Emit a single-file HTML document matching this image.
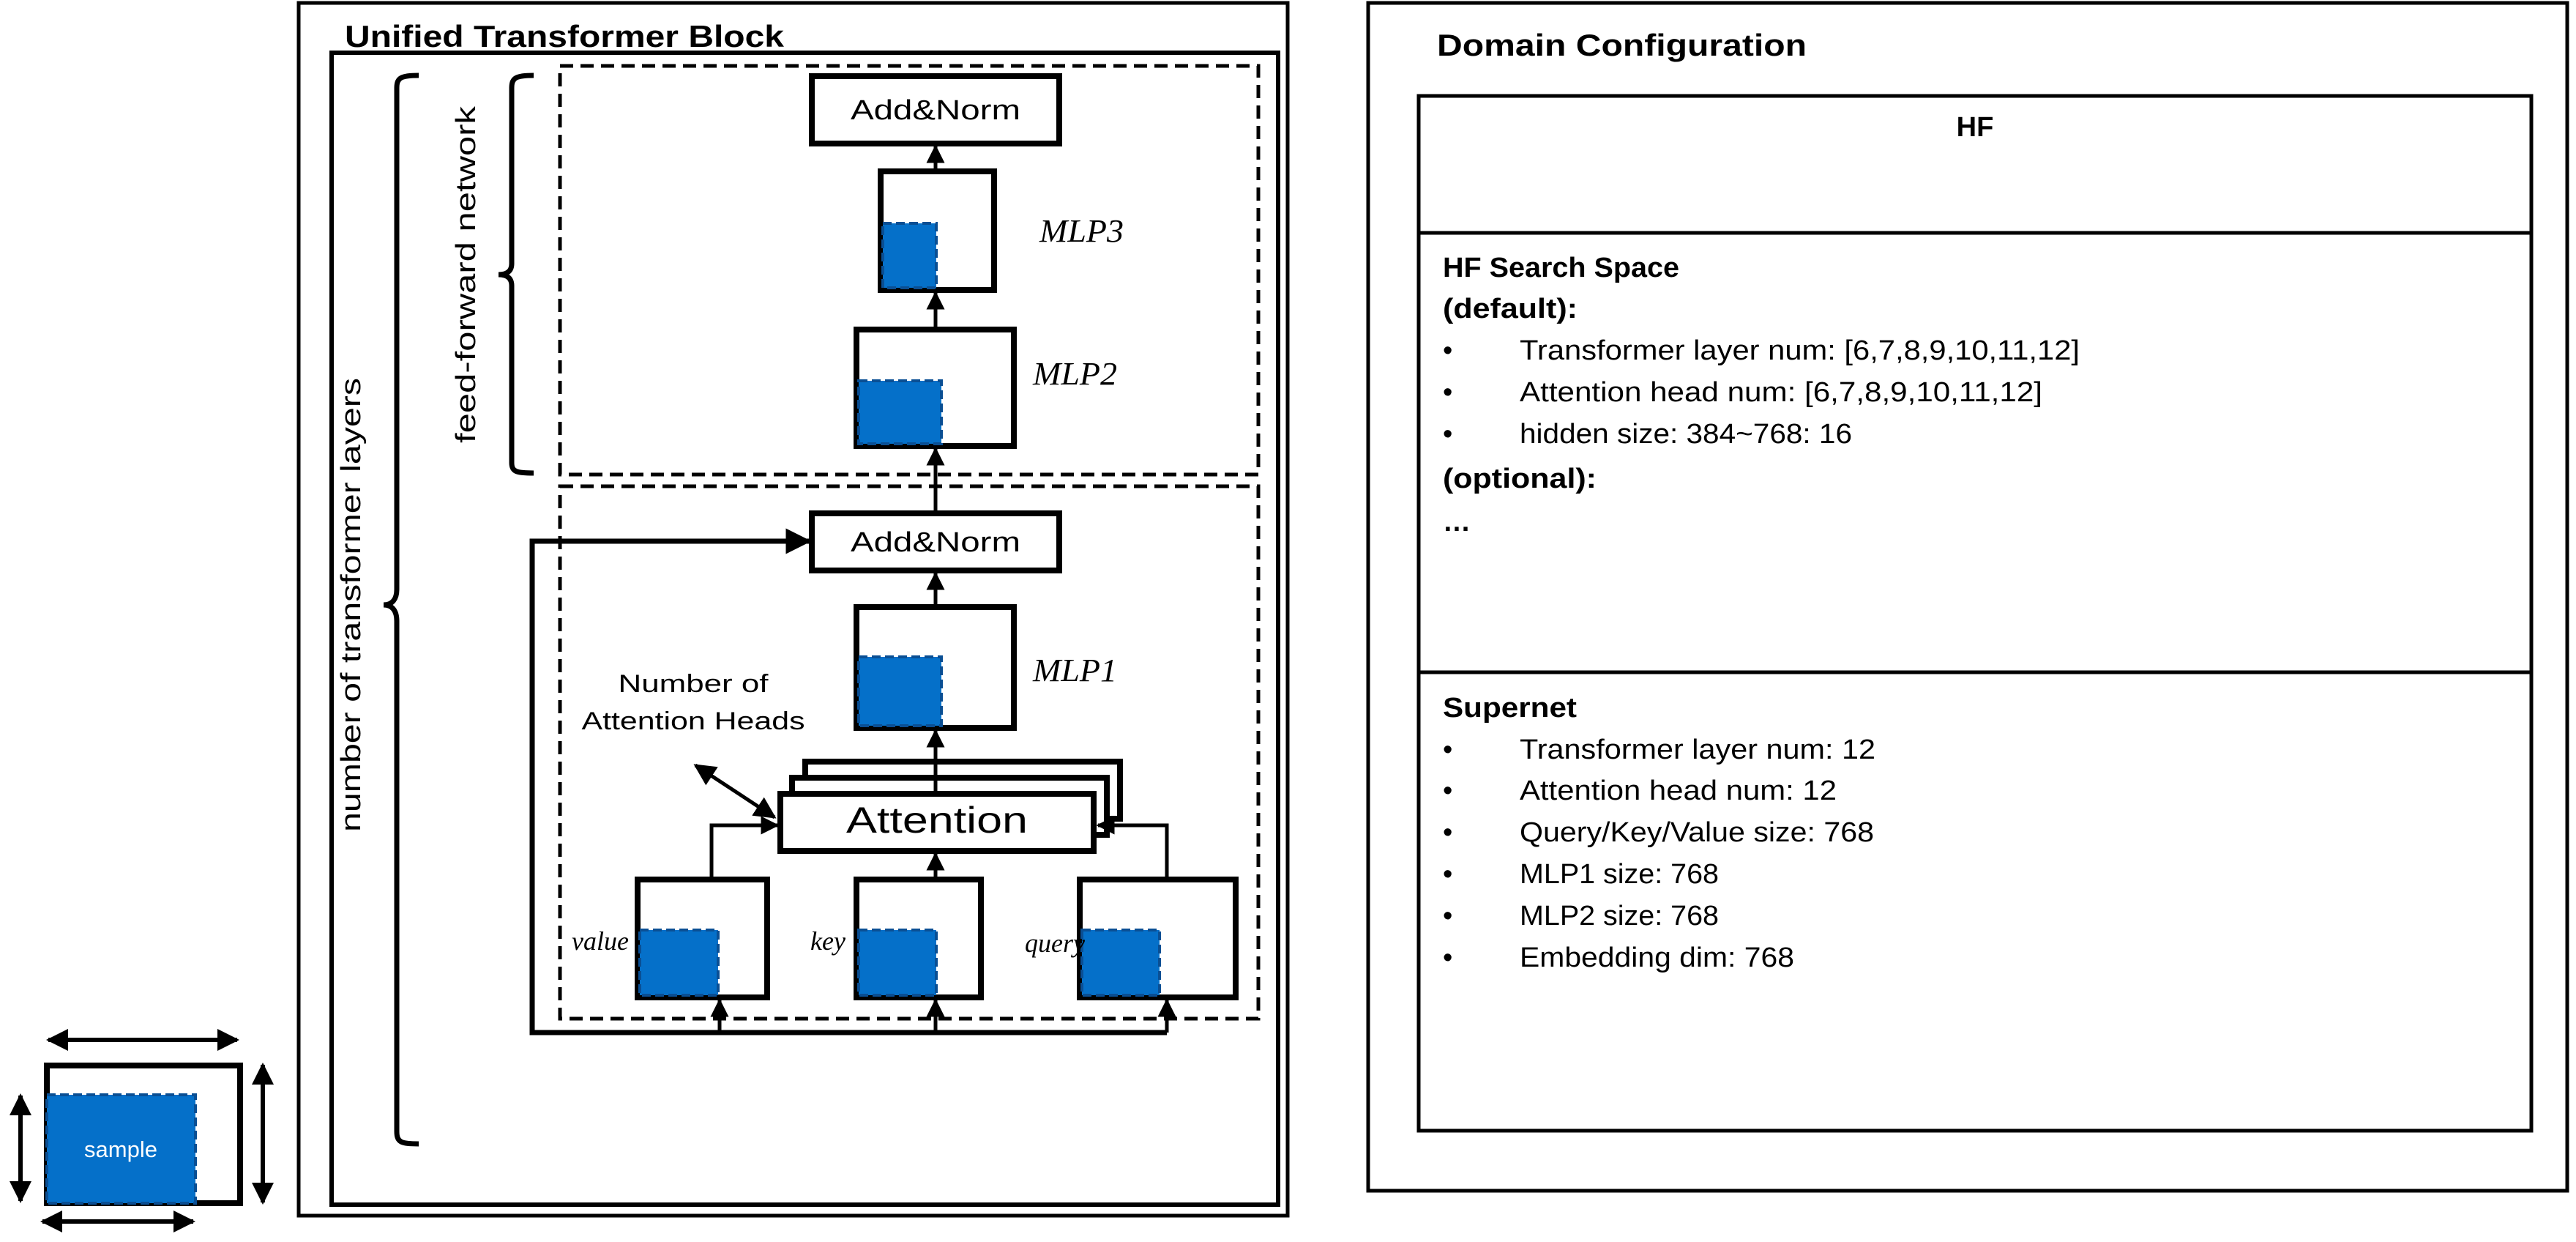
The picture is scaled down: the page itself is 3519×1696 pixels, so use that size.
<!DOCTYPE html>
<html><head><meta charset="utf-8"><style>html,body{margin:0;padding:0;background:#fff}svg{display:block}</style></head>
<body>
<svg width="3519" height="1696" viewBox="0 0 3519 1696" xmlns="http://www.w3.org/2000/svg" font-family="Liberation Sans, sans-serif">
<defs>
<marker id="ah" viewBox="0 0 10 10" refX="9" refY="5" markerWidth="5" markerHeight="5" orient="auto-start-reverse" markerUnits="strokeWidth"><path d="M0,0 L10,5 L0,10 z" fill="#000"/></marker>
<marker id="ah2" viewBox="0 0 10 10" refX="9" refY="5" markerWidth="6" markerHeight="6" orient="auto-start-reverse" markerUnits="strokeWidth"><path d="M0,0 L10,5 L0,10 z" fill="#000"/></marker>
</defs>
<g fill="none" stroke="#000">
<rect x="408" y="4" width="1351" height="1656" stroke-width="5"/>
<rect x="453" y="72" width="1293" height="1573" stroke-width="6"/>
<path d="M572,103 C548,103 542,106 542,120 L542,805 C542,818 536,826 524,826 C536,826 542,834 542,848 L542,1545 C542,1560 548,1562 572,1562" stroke-width="7"/>
<path d="M729,103 C705,103 699,106 699,120 L699,360 C699,370 693,375 681,375 C693,375 699,380 699,390 L699,632 C699,644 705,646 729,646" stroke-width="7"/>
<rect x="765" y="90" width="954" height="558" stroke-width="5" stroke-dasharray="18,10"/>
<rect x="765" y="664" width="954" height="727" stroke-width="5" stroke-dasharray="18,10"/>
<rect x="1109" y="104" width="338" height="92" stroke-width="8"/>
<rect x="1203" y="234" width="155" height="162" stroke-width="8"/>
<rect x="1170" y="450" width="215" height="159" stroke-width="8"/>
<rect x="1109" y="701" width="338" height="78" stroke-width="8"/>
<rect x="1170" y="829" width="215" height="165" stroke-width="8"/>
<rect x="1100" y="1040" width="430" height="78" stroke-width="8" fill="#fff"/>
<rect x="1082" y="1062" width="430" height="78" stroke-width="8" fill="#fff"/>
<rect x="1066" y="1084" width="428" height="78" stroke-width="8" fill="#fff"/>
<rect x="871" y="1201" width="177" height="161" stroke-width="8"/>
<rect x="1170" y="1201" width="170" height="161" stroke-width="8"/>
<rect x="1475" y="1201" width="213" height="161" stroke-width="8"/>
</g>
<g fill="#0570c9" stroke="#0a4f94" stroke-width="4" stroke-dasharray="12,6">
<rect x="1206" y="305" width="73" height="88"/>
<rect x="1173" y="520" width="113" height="86"/>
<rect x="1173" y="897" width="113" height="94"/>
<rect x="874" y="1270" width="107" height="89"/>
<rect x="1173" y="1270" width="106" height="89"/>
<rect x="1478" y="1270" width="106" height="89"/>
</g>
<g fill="none" stroke="#000" stroke-width="5">
<line x1="1278" y1="230" x2="1278" y2="200" marker-end="url(#ah)"/>
<line x1="1278" y1="446" x2="1278" y2="400" marker-end="url(#ah)"/>
<line x1="1278" y1="697" x2="1278" y2="613" marker-end="url(#ah)"/>
<line x1="1278" y1="825" x2="1278" y2="783" marker-end="url(#ah)"/>
<line x1="1278" y1="1080" x2="1278" y2="998" marker-end="url(#ah)"/>
<line x1="1278" y1="1197" x2="1278" y2="1166" marker-end="url(#ah)"/>
<polyline points="972,1197 972,1127 1062,1127" marker-end="url(#ah)"/>
<polyline points="1594,1197 1594,1127 1500,1127" marker-end="url(#ah)"/>
<polyline points="1594,1410 1594,1366" marker-end="url(#ah)"/>
<polyline points="1278,1410 1278,1366" marker-end="url(#ah)"/>
<polyline points="983,1410 983,1366" marker-end="url(#ah)"/>
<polyline points="1594,1410 727,1410 727,739 1105,739" marker-end="url(#ah)" stroke-width="7"/>
<line x1="950" y1="1045" x2="1058" y2="1116" marker-start="url(#ah2)" marker-end="url(#ah2)"/>
</g>
<g>
<rect x="64" y="1455" width="264" height="188" fill="none" stroke="#000" stroke-width="8"/>
<rect x="64" y="1495" width="203" height="148" fill="#0570c9" stroke="#0a4f94" stroke-width="4" stroke-dasharray="12,6"/>
<text x="165" y="1580" fill="#fff" font-size="31" text-anchor="middle">sample</text>
<g stroke="#000" stroke-width="6" fill="none">
<line x1="66" y1="1420" x2="324" y2="1420" marker-start="url(#ah)" marker-end="url(#ah)"/>
<line x1="58" y1="1668" x2="264" y2="1668" marker-start="url(#ah)" marker-end="url(#ah)"/>
<line x1="28" y1="1496" x2="28" y2="1640" marker-start="url(#ah)" marker-end="url(#ah)"/>
<line x1="359" y1="1454" x2="359" y2="1642" marker-start="url(#ah)" marker-end="url(#ah)"/>
</g>
</g>
<text x="471" y="64" font-size="42" font-weight="bold" textLength="600" lengthAdjust="spacingAndGlyphs">Unified Transformer Block</text>
<text transform="translate(492,826) rotate(-90)" font-size="38" text-anchor="middle" textLength="620" lengthAdjust="spacingAndGlyphs">number of  transformer layers</text>
<text transform="translate(649,375) rotate(-90)" font-size="38" text-anchor="middle" textLength="460" lengthAdjust="spacingAndGlyphs">feed-forward network</text>
<g font-size="38" text-anchor="middle">
<text x="1278" y="163" textLength="232" lengthAdjust="spacingAndGlyphs">Add&amp;Norm</text>
<text x="1278" y="753" textLength="232" lengthAdjust="spacingAndGlyphs">Add&amp;Norm</text>
<text x="1280" y="1137" font-size="50" textLength="248" lengthAdjust="spacingAndGlyphs">Attention</text>
<text x="947" y="945" font-size="34" textLength="205" lengthAdjust="spacingAndGlyphs">Number of</text>
<text x="947" y="996" font-size="34" textLength="305" lengthAdjust="spacingAndGlyphs">Attention Heads</text>
</g>
<g font-family="Liberation Serif, serif" font-style="italic" font-size="44">
<text x="1420" y="330" textLength="115" lengthAdjust="spacingAndGlyphs">MLP3</text>
<text x="1411" y="525" textLength="115" lengthAdjust="spacingAndGlyphs">MLP2</text>
<text x="1411" y="930" textLength="115" lengthAdjust="spacingAndGlyphs">MLP1</text>
<text x="781" y="1297" font-size="36">value</text>
<text x="1107" y="1297" font-size="36">key</text>
<text x="1400" y="1300" font-size="36">query</text>
</g>
<rect x="1869" y="4" width="1638" height="1622" fill="none" stroke="#000" stroke-width="5"/>
<text x="1963" y="76" font-size="42" font-weight="bold" textLength="505" lengthAdjust="spacingAndGlyphs">Domain Configuration</text>
<rect x="1938" y="131" width="1520" height="1413" fill="none" stroke="#000" stroke-width="5"/>
<line x1="1938" y1="318" x2="3458" y2="318" stroke="#000" stroke-width="5"/>
<line x1="1938" y1="918" x2="3458" y2="918" stroke="#000" stroke-width="5"/>
<text x="2698" y="186" font-size="38" font-weight="bold" text-anchor="middle">HF</text>
<g font-size="38">
<text x="1971" y="378" font-weight="bold" textLength="323" lengthAdjust="spacingAndGlyphs">HF Search Space</text>
<text x="1971" y="434" font-weight="bold" textLength="184" lengthAdjust="spacingAndGlyphs">(default):</text>
<text x="1971" y="491">•</text><text x="2076" y="491" textLength="765" lengthAdjust="spacingAndGlyphs">Transformer layer num: [6,7,8,9,10,11,12]</text>
<text x="1971" y="548">•</text><text x="2076" y="548" textLength="714" lengthAdjust="spacingAndGlyphs">Attention head num: [6,7,8,9,10,11,12]</text>
<text x="1971" y="605">•</text><text x="2076" y="605" textLength="454" lengthAdjust="spacingAndGlyphs">hidden size: 384~768: 16</text>
<text x="1971" y="666" font-weight="bold" textLength="210" lengthAdjust="spacingAndGlyphs">(optional):</text>
<text x="1971" y="725" font-weight="bold">…</text>
<text x="1971" y="979" font-weight="bold" textLength="183" lengthAdjust="spacingAndGlyphs">Supernet</text>
<text x="1971" y="1036">•</text><text x="2076" y="1036" textLength="486" lengthAdjust="spacingAndGlyphs">Transformer layer num: 12</text>
<text x="1971" y="1092">•</text><text x="2076" y="1092" textLength="433" lengthAdjust="spacingAndGlyphs">Attention head num: 12</text>
<text x="1971" y="1149">•</text><text x="2076" y="1149" textLength="484" lengthAdjust="spacingAndGlyphs">Query/Key/Value size: 768</text>
<text x="1971" y="1206">•</text><text x="2076" y="1206" textLength="272" lengthAdjust="spacingAndGlyphs">MLP1 size: 768</text>
<text x="1971" y="1263">•</text><text x="2076" y="1263" textLength="272" lengthAdjust="spacingAndGlyphs">MLP2 size: 768</text>
<text x="1971" y="1320">•</text><text x="2076" y="1320" textLength="375" lengthAdjust="spacingAndGlyphs">Embedding dim: 768</text>
</g>
</svg>
</body></html>
